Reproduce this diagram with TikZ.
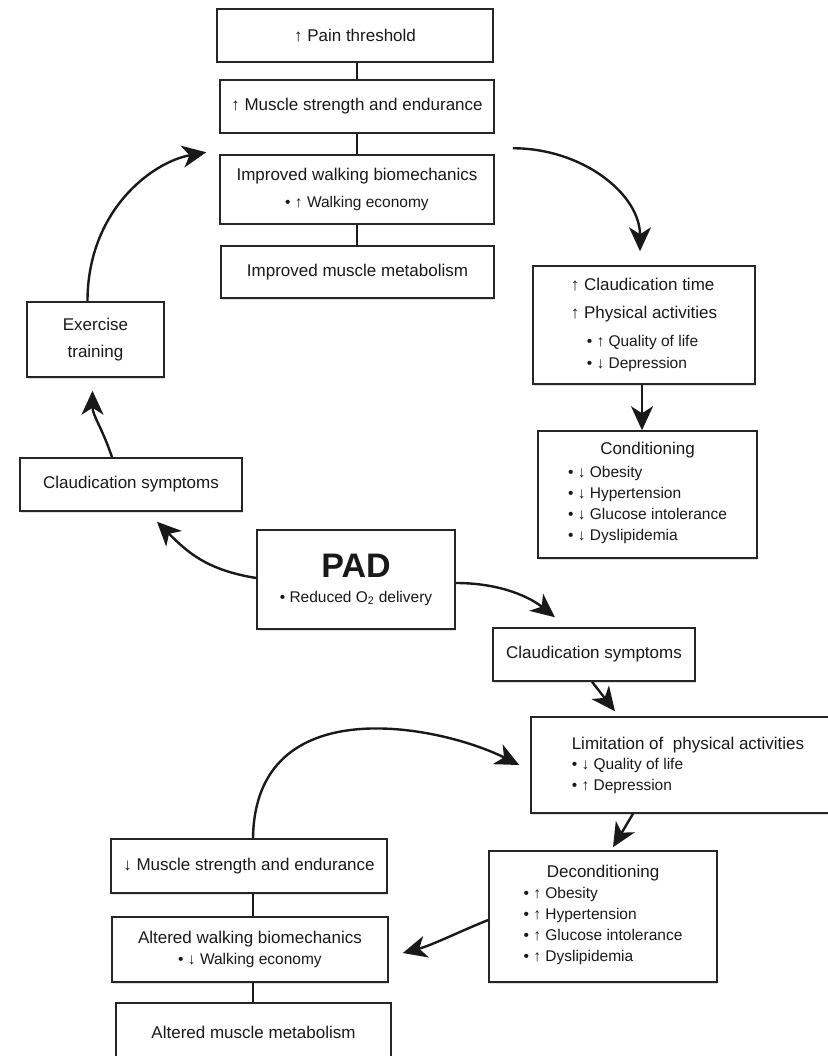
\documentclass[tikz,border=0pt]{standalone}
\usepackage{fontspec}
\setmainfont{Liberation Sans}
\usetikzlibrary{arrows.meta, shadows}

\newcommand{\titlefont}{\fontsize{17}{21}\selectfont}
\newcommand{\itemfont}{\fontsize{15.5}{21}\selectfont}

\begin{document}
\begin{tikzpicture}[x=1pt, y=-1pt,
    box/.style={draw=black!85, line width=1.5pt, fill=white, text=black!90,
        font=\titlefont, inner sep=4pt,
        drop shadow={shadow xshift=1.2pt, shadow yshift=-1.5pt, opacity=0.25}},
    flow/.style={-{Stealth[length=24pt, width=22pt, inset=7pt]}, line width=2.4pt, black!90},
    link/.style={line width=2.4pt, black!90}]
    \useasboundingbox (0,0) rectangle (827,1056);

    % Cột cải thiện phía trên
    \node[box, minimum width=276pt, minimum height=53pt] (pain) at (355,35.5) {↑ Pain threshold};
    \node[box, minimum width=274pt, minimum height=53pt] (musc) at (357,106.5) {↑ Muscle strength and endurance};
    \node[box, minimum width=274pt, minimum height=69pt, align=center] (walk) at (357,189.5)
        {Improved walking biomechanics\\[6pt] {\itemfont • ↑ Walking economy}};
    \node[box, minimum width=273pt, minimum height=52pt] (metab) at (357.5,272) {Improved muscle metabolism};

    % Vòng bên trái
    \node[box, minimum width=137pt, minimum height=75pt, align=center] (exer) at (95.5,339.5) {Exercise\\[6pt] training};
    \node[box, minimum width=222pt, minimum height=53pt] (clL) at (131,484.5) {Claudication symptoms};

    % Nhánh bên phải: hiệu quả của tập luyện
    \node[box, minimum width=222pt, minimum height=118pt, align=left] (gain) at (644,325)
        {↑ Claudication time\\[7pt] ↑ Physical activities\\[7pt]
         \hspace*{16pt}{\itemfont • ↑ Quality of life}\\[1pt] \hspace*{16pt}{\itemfont • ↓ Depression}};
    \node[box, minimum width=219pt, minimum height=127pt, align=center] (cond) at (647.5,494.5)
        {Conditioning\\[2pt] \itemfont\begin{tabular}[t]{@{}l@{}}
         • ↓ Obesity\\ • ↓ Hypertension\\ • ↓ Glucose intolerance\\ • ↓ Dyslipidemia\end{tabular}};

    % Nút trung tâm
    \node[box, minimum width=198pt, minimum height=99pt, align=center] (pad) at (356,579.5)
        {{\fontsize{34}{36}\selectfont\bfseries PAD}\\[4pt] {\itemfont • Reduced O\textsubscript{2} delivery}};

    % Nhánh dưới: suy giảm
    \node[box, minimum width=202pt, minimum height=53pt] (clR) at (594,654.5) {Claudication symptoms};
    \node[box, minimum width=314pt, minimum height=96pt, align=left] (lim) at (688,765)
        {Limitation of~ physical activities\\[-1pt] {\itemfont • ↓ Quality of life}\\ {\itemfont • ↑ Depression}};
    \node[box, minimum width=228pt, minimum height=131pt, align=center] (decond) at (603,916.5)
        {Deconditioning\\ \itemfont\begin{tabular}[t]{@{}l@{}}
         • ↑ Obesity\\ • ↑ Hypertension\\ • ↑ Glucose intolerance\\ • ↑ Dyslipidemia\end{tabular}};

    % Cột suy giảm phía dưới
    \node[box, minimum width=276pt, minimum height=54pt] (mdown) at (249,866) {↓ Muscle strength and endurance};
    \node[box, minimum width=276pt, minimum height=65pt, align=center] (altw) at (250,949.5)
        {Altered walking biomechanics\\ {\itemfont • ↓ Walking economy}};
    \node[box, minimum width=275pt, minimum height=58pt] (altm) at (253.5,1032) {Altered muscle metabolism};

    % Đường nối trong các cột
    \draw[link] (musc.north) -- (musc.north |- pain.south);
    \draw[link] (musc.south) -- (musc.south |- walk.north);
    \draw[link] (walk.south) -- (walk.south |- metab.north);
    \draw[link] ([xshift=4pt]mdown.south) -- ([xshift=4pt]mdown.south |- altw.north);
    \draw[link] ([xshift=3pt]altw.south) -- ([xshift=3pt]altw.south |- altm.north);

    % Mũi tên của vòng tập luyện
    \draw[flow] ([xshift=-8pt]exer.north) .. controls +(0,-90) and +(-55,10) .. ([xshift=-13pt,yshift=2pt]walk.north west);
    \draw[flow] ([xshift=18pt,yshift=6pt]walk.north east) .. controls +(70,0) and +(0,-57) .. ([xshift=-4pt,yshift=14pt]gain.north);
    \draw[flow] ([xshift=-2pt]gain.south) -- ([xshift=-2pt]gain.south |- cond.north);
    \draw[flow] ([xshift=-19pt]clL.north) .. controls +(-10,-30) and +(0,25) .. ([xshift=-3pt,yshift=-13pt]exer.south);
    \draw[flow] ([yshift=1.5pt]pad.west) .. controls +(-50,-8) and +(30,30) .. ([xshift=26pt,yshift=-10pt]clL.south);

    % Mũi tên của vòng suy giảm
    \draw[flow] ([yshift=-3.5pt]pad.east) .. controls +(45,0) and +(-25,-20) .. ([xshift=-39pt,yshift=10pt]clR.north);
    \draw[flow] ([xshift=-2pt]clR.south) -- ([xshift=-73pt,yshift=5pt]lim.north);
    \draw[flow] ([xshift=4pt]mdown.north) .. controls +(2,-150) and +(-80,-40) .. ([xshift=-11pt]lim.west);
    \draw[flow] ([xshift=-55pt]lim.south) -- ([xshift=10pt,yshift=3pt]decond.north);
    \draw[flow] ([yshift=-3.5pt]decond.west) .. controls +(-30,12) and +(30,-8) .. ([xshift=14pt,yshift=-3.5pt]altw.east);
\end{tikzpicture}
\end{document}
